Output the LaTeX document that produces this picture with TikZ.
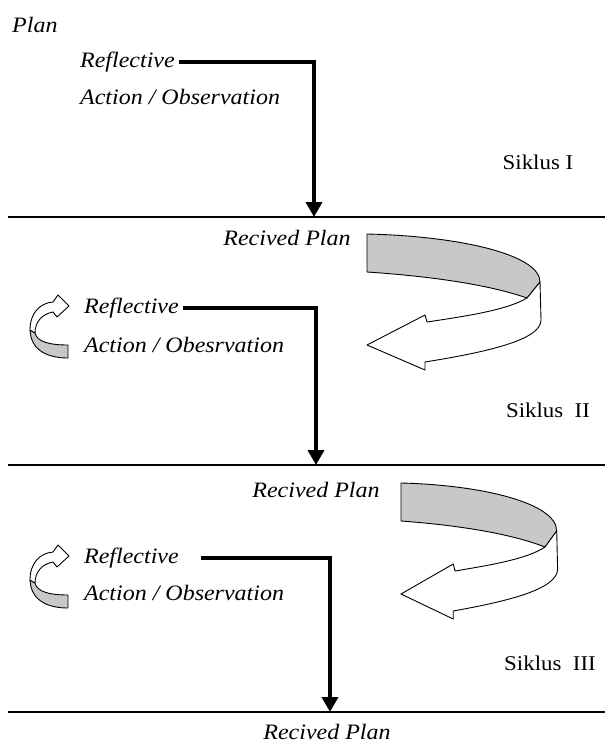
\documentclass[tikz,border=0pt]{standalone}
\usepackage{fontspec}
\setmainfont[FakeStretch=1.09]{Liberation Serif}
\usetikzlibrary{arrows.meta, calc}
\definecolor{ribbongray}{RGB}{200,200,200}

\begin{document}
\begin{tikzpicture}[x=1pt, y=-1pt]
    \tikzset{
      stage/.style={
        font=\fontsize{22}{26}\selectfont\itshape,
        inner sep=4pt,
        anchor=west,
      },
      cyc/.style={
        font=\fontsize{21}{25}\selectfont,
        inner sep=0pt,
      },
      flow/.style={
        line width=4pt,
        -{Triangle[length=15pt,width=16pt]},
      },
      divider/.style={line width=1.3pt},
      ribbon/.style={draw, line width=0.9pt, line join=round}
    }
    \useasboundingbox (0,0) rectangle (605,744);

    % Siklus I
    \node[stage] (plan)  at (8,25)  {Plan};
    \node[stage] (refl1) at (76,62) {Reflective};
    \node[stage] (act1)  at (76,97) {Action / Observation};
    \node[cyc]   (sik1)  at (538,162) {Siklus I};
    \coordinate (c1) at (314,62);
    \coordinate (h1) at (314,217);
    \draw[flow] (refl1.east) -- (c1) -- (h1);
    \coordinate (l1a) at (8,217);
    \coordinate (l1b) at (605,217);
    \draw[divider] (l1a) -- (l1b);

    % Siklus II
    \node[stage, anchor=center] (recv2) at (287,238) {Recived Plan};
    \node[stage] (refl2) at (80,308) {Reflective};
    \node[stage] (act2)  at (80,345) {Action / Obesrvation};
    \node[cyc]   (sik2)  at (548,410) {Siklus\ \ II};
    \coordinate (c2) at (316,308);
    \coordinate (h2) at (316,465);
    \draw[flow] (refl2.east) -- (c2) -- (h2);
    \coordinate (l2a) at (8,465);
    \coordinate (l2b) at (605,465);
    \draw[divider] (l2a) -- (l2b);

    % big turn-around arrows
    \foreach \px/\py/\sx in {367/234/1, 401/483/0.9} {
      \begin{scope}[shift={(\px,\py)}, xscale=\sx]
        \draw[ribbon, fill=ribbongray]
          (0,0) -- (0,38) .. controls (60,42) and (120,50) .. (160,64)
          -- (173,48) .. controls (173,20) and (90,2) .. (0,0) -- cycle;
        \draw[ribbon, fill=white]
          (160,64) -- (173,48) -- (174,86)
          .. controls (174,106) and (120,118) .. (58,128)
          -- (58,136) -- (0,111) -- (58,81) -- (60,88)
          .. controls (100,82) and (140,76) .. (160,64) -- cycle;
      \end{scope}
    }

    % small turn-around arrows
    \foreach \py in {0, 250} {
      \begin{scope}[yshift=-\py]
        \draw[ribbon, fill=ribbongray]
          (30,330) .. controls (31,352) and (50,358) .. (68,358)
          -- (68,345) .. controls (50,345) and (37,342) .. (35,333) -- cycle;
        \draw[ribbon, fill=white]
          (30,330) .. controls (30,313) and (40,303) .. (53,302)
          -- (58,295) -- (69,306) -- (57,317) -- (53,312)
          .. controls (42,314) and (35,322) .. (35,333) -- cycle;
      \end{scope}
    }

    % Siklus III
    \node[stage, anchor=center] (recv3) at (316,490) {Recived Plan};
    \node[stage] (refl3) at (80,558) {Reflective};
    \node[stage] (act3)  at (80,593) {Action / Observation};
    \node[cyc]   (sik3)  at (550,663) {Siklus\ \ III};
    \coordinate (c3) at (330,558);
    \coordinate (h3) at (330,712);
    \draw[flow] ([xshift=18pt]refl3.east) -- (c3) -- (h3);
    \coordinate (l3a) at (8,712);
    \coordinate (l3b) at (605,712);
    \draw[divider] (l3a) -- (l3b);
    \node[stage, anchor=center, inner sep=1pt] (recv4) at (327,732) {Recived Plan};
\end{tikzpicture}
\end{document}
